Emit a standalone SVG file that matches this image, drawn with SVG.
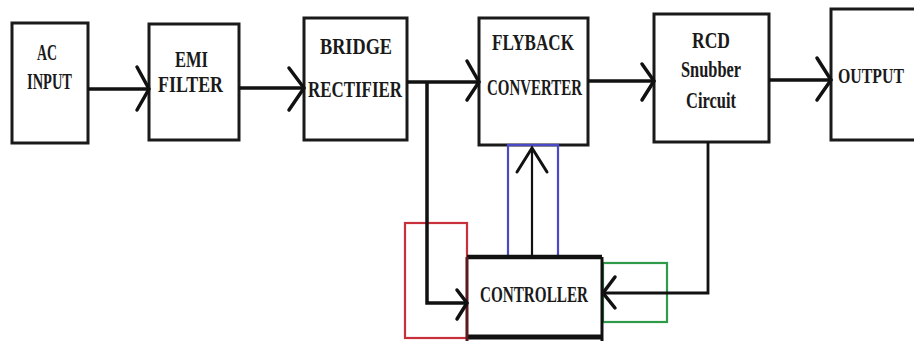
<svg xmlns="http://www.w3.org/2000/svg" width="914" height="341" viewBox="0 0 914 341">
  <style>
    .box { fill: #ffffff; stroke: #1a1a1a; stroke-width: 3; }
    .wire { fill: none; stroke: #111111; stroke-width: 3.5; }
    .thin { fill: none; stroke: #111111; stroke-width: 2.2; }
    .head { fill: none; stroke: #111111; stroke-width: 3.5; stroke-linejoin: miter; stroke-linecap: round; }
    .lbl { font-family: "Liberation Serif", "Times New Roman", serif; font-weight: bold; font-size: 24px; fill: #1a1a1a; }
    .sm { font-size: 21px; }
  </style>
  <rect width="914" height="341" fill="#ffffff"/>

  <!-- blocks -->
  <g id="ac-input">
    <rect class="box" x="12" y="23" width="76" height="120"/>
    <text class="lbl" x="37" y="60" textLength="20" lengthAdjust="spacingAndGlyphs">AC</text>
    <text class="lbl" x="27" y="89" textLength="45" lengthAdjust="spacingAndGlyphs">INPUT</text>
  </g>
  <g id="emi-filter">
    <rect class="box" x="149" y="24" width="90" height="116"/>
    <text class="lbl" x="175" y="67" textLength="33" lengthAdjust="spacingAndGlyphs">EMI</text>
    <text class="lbl" x="158" y="92" textLength="65" lengthAdjust="spacingAndGlyphs">FILTER</text>
  </g>
  <g id="bridge-rectifier">
    <rect class="box" x="304" y="18" width="103" height="122"/>
    <text class="lbl" x="320" y="54" textLength="72" lengthAdjust="spacingAndGlyphs">BRIDGE</text>
    <text class="lbl" x="308" y="97" textLength="94" lengthAdjust="spacingAndGlyphs">RECTIFIER</text>
  </g>
  <g id="flyback-converter">
    <rect class="box" x="479" y="18" width="109" height="127"/>
    <text class="lbl" x="492" y="50" textLength="82" lengthAdjust="spacingAndGlyphs">FLYBACK</text>
    <text class="lbl" x="487" y="95" textLength="95" lengthAdjust="spacingAndGlyphs">CONVERTER</text>
  </g>
  <g id="rcd-snubber">
    <rect class="box" x="654" y="14" width="115" height="128"/>
    <text class="lbl" x="692" y="48" textLength="38" lengthAdjust="spacingAndGlyphs">RCD</text>
    <text class="lbl" x="681" y="77" textLength="60" lengthAdjust="spacingAndGlyphs">Snubber</text>
    <text class="lbl" x="686" y="108" textLength="50" lengthAdjust="spacingAndGlyphs">Circuit</text>
  </g>
  <g id="output">
    <rect class="box" x="831" y="9" width="95" height="131"/>
    <text class="lbl sm" x="838" y="83" textLength="66" lengthAdjust="spacingAndGlyphs">OUTPUT</text>
  </g>

  <!-- coloured outline frames around the controller links -->
  <g id="frames" fill="none" stroke-width="2.2">
    <rect x="405" y="223" width="62" height="115" stroke="#c8303c"/>
    <rect x="508" y="145" width="50" height="112" stroke="#4a4ac8"/>
    <rect x="603" y="263" width="64" height="59" stroke="#2e9a4a"/>
  </g>

  <g id="controller">
    <rect x="467" y="257" width="135" height="84" fill="#ffffff" stroke="none"/>
    <line x1="467" y1="257" x2="602" y2="257" stroke="#111" stroke-width="4.5"/>
    <line x1="467" y1="337" x2="602" y2="337" stroke="#111" stroke-width="5"/>
    <line x1="467" y1="257" x2="467" y2="341" stroke="#5a1a20" stroke-width="3"/>
    <line x1="602" y1="257" x2="602" y2="341" stroke="#111" stroke-width="3"/>
    <text class="lbl" x="480" y="302" textLength="108" lengthAdjust="spacingAndGlyphs">CONTROLLER</text>
  </g>

  <!-- connectors -->
  <g id="connectors">
    <line class="wire" x1="88" y1="89" x2="148" y2="89"/>
    <polyline class="head" points="137,67 149,89 137,110"/>

    <line class="wire" x1="239" y1="88" x2="303" y2="88"/>
    <polyline class="head" points="289,68 304,88 289,110"/>

    <line class="wire" x1="407" y1="82" x2="478" y2="82"/>
    <polyline class="head" points="467,61 479,82 467,100"/>

    <line class="wire" x1="588" y1="81" x2="653" y2="81"/>
    <polyline class="head" points="642,64 654,81 642,100"/>

    <line class="wire" x1="769" y1="80" x2="830" y2="80"/>
    <polyline class="head" points="817,58 831,80 817,100"/>

    <!-- rectifier output to controller -->
    <polyline class="wire" points="427,82 427,303 466,303"/>
    <polyline class="head" points="457,290 467,303 457,319"/>

    <!-- controller drive to converter -->
    <line class="thin" x1="532" y1="257" x2="532" y2="148"/>
    <polyline class="head" points="517,172 532,148 547,172" style="stroke-width:3"/>

    <!-- snubber feedback to controller -->
    <polyline class="thin" points="708,142 708,293 604,293" style="stroke-width:2.8"/>
    <polyline class="head" points="615,277 603,293 615,308"/>
  </g>
</svg>
